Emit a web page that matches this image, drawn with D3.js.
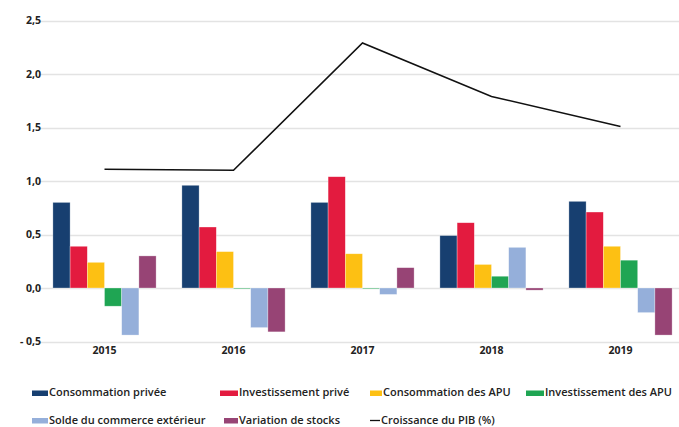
<!DOCTYPE html>
<html><head><meta charset="utf-8">
<script src="https://cdn.jsdelivr.net/npm/d3@7"></script>
<style>body{margin:0;background:#fff}svg{display:block}</style>
</head><body><svg id="c" width="679" height="427"></svg>
<script>
const years = ["2015","2016","2017","2018","2019"];
const seriesNames = ["Consommation privée","Investissement privé","Consommation des APU","Investissement des APU","Solde du commerce extérieur","Variation de stocks"];
const consoPrivee = [0.80, 0.96, 0.80, 0.49, 0.81];
const investPrive = [0.39, 0.57, 1.04, 0.61, 0.71];
const consoAPU = [0.24, 0.34, 0.32, 0.22, 0.39];
const investAPU = [-0.17, -0.005, -0.005, 0.11, 0.26];
const soldeCommerce = [-0.44, -0.37, -0.06, 0.38, -0.23];
const variationStocks = [0.30, -0.41, 0.19, -0.02, -0.44];
const croissancePIB = [1.11, 1.10, 2.29, 1.79, 1.51];
const lineName = "Croissance du PIB (%)";
const yTicks = [-0.5, 0, 0.5, 1.0, 1.5, 2.0, 2.5];
const colors = ["#173f70","#e31b3f","#fdc013","#1fa553","#95afda","#974475"];

const seriesValues = [consoPrivee, investPrive, consoAPU, investAPU, soldeCommerce, variationStocks];
const svg = d3.select("#c");
const font = "'Open Sans', Lato, sans-serif";

const y = d3.scaleLinear().domain([-0.5, 2.5]).range([341.5, 20.5]);
const x0 = d3.scaleBand().domain(years).range([40, 685]).paddingInner(0.2).paddingOuter(0.1);
const x1 = d3.scaleBand().domain(d3.range(6)).range([0, x0.bandwidth()]);

// gridlines
svg.append("g").selectAll("line").data(yTicks).join("line")
  .attr("x1", 40).attr("x2", 679)
  .attr("y1", d => Math.round(y(d)) + 0.5).attr("y2", d => Math.round(y(d)) + 0.5)
  .attr("stroke", "#e3e3e3").attr("stroke-width", 1.5);

// y axis labels
const fmt = v => (v < 0 ? "- " : "") + d3.format(".1f")(Math.abs(v)).replace(".", ",");
const yAxis = d3.axisLeft(y).tickValues(yTicks).tickFormat(fmt).tickSize(0).tickPadding(0);
const ga = svg.append("g").attr("transform", "translate(41,0)").call(yAxis);
ga.select(".domain").remove();
ga.selectAll("text").attr("font-family", font).attr("font-weight", "bold").attr("font-size", 10.5).attr("fill", "#222");

// bars
const groups = svg.append("g").selectAll("g").data(years).join("g")
  .attr("transform", d => `translate(${x0(d)},0)`);
groups.selectAll("rect").data((d, i) => seriesValues.map((s, k) => ({k, v: s[i]}))).join("rect")
  .attr("x", d => x1(d.k)).attr("width", x1.bandwidth())
  .attr("y", d => y(Math.max(0, d.v))).attr("height", d => Math.max(0.8, Math.abs(y(d.v) - y(0))))
  .attr("fill", d => colors[d.k]).attr("stroke", "#ffffff").attr("stroke-opacity", 0.5).attr("stroke-width", 0.6);

// x axis labels
const xAxis = d3.axisBottom(x0).tickSize(0).tickPadding(0);
const gx = svg.append("g").attr("transform", "translate(0,347)").call(xAxis);
gx.select(".domain").remove();
gx.selectAll("text").attr("font-family", font).attr("font-weight", "bold").attr("font-size", 10.5).attr("fill", "#222");

// line at band centres
svg.append("path").datum(croissancePIB)
  .attr("d", d3.line().x((d, i) => x0(years[i]) + x0.bandwidth() / 2).y(d => y(d)))
  .attr("fill", "none").attr("stroke", "#111").attr("stroke-width", 1.6);

// legend
const legendItems = [
  {name: seriesNames[0], c: colors[0], sx: 32, tx: 49, row: 0},
  {name: seriesNames[1], c: colors[1], sx: 220, tx: 239, row: 0},
  {name: seriesNames[2], c: colors[2], sx: 370, tx: 383, row: 0},
  {name: seriesNames[3], c: colors[3], sx: 526, tx: 545, row: 0},
  {name: seriesNames[4], c: colors[4], sx: 32, tx: 49, row: 1},
  {name: seriesNames[5], c: colors[5], sx: 224, tx: 239, row: 1},
  {name: lineName, c: "#111", sx: 370, tx: 381, row: 1, line: true}
];
const rowBase = [396, 423.5];
const lg = svg.append("g").selectAll("g").data(legendItems).join("g");
lg.filter(d => !d.line).append("rect")
  .attr("x", d => d.sx).attr("y", d => rowBase[d.row] - 5.5).attr("width", d => d.tx - d.sx - 1).attr("height", 5.5)
  .attr("fill", d => d.c);
lg.filter(d => d.line).append("line")
  .attr("x1", d => d.sx).attr("x2", d => d.tx - 1).attr("y1", d => rowBase[d.row] - 3).attr("y2", d => rowBase[d.row] - 3)
  .attr("stroke", d => d.c).attr("stroke-width", 1.3);
lg.append("text").attr("x", d => d.tx).attr("y", d => rowBase[d.row])
  .attr("font-family", font).attr("font-weight", 600).attr("font-size", 11).attr("fill", "#222")
  .text(d => d.name);
</script></body></html>
